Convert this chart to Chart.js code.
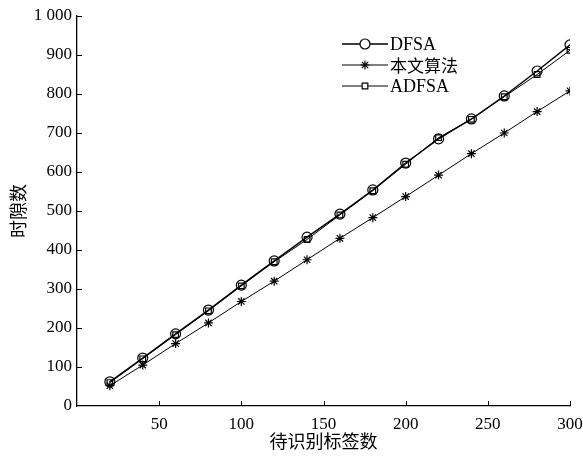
<!DOCTYPE html>
<html>
<head>
<meta charset="utf-8">
<script src="https://cdn.jsdelivr.net/npm/chart.js@4/dist/chart.umd.min.js"></script>
<style>
  html, body { margin: 0; padding: 0; background: #fff; }
  #wrap { width: 583px; height: 456px; }
</style>
</head>
<body>
<div id="wrap"><canvas id="slotChart" width="583" height="456"></canvas></div>
<script>
const tagCounts = [20, 40, 60, 80, 100, 120, 140, 160, 180, 200, 220, 240, 260, 280, 300]
const dfsaSlots = [62, 123, 185, 246, 310, 372, 433, 492, 554, 623, 685, 736, 795, 859, 926]
const oursSlots = [52, 105, 160, 213, 268, 320, 375, 430, 483, 537, 592, 647, 700, 755, 808]
const adfsaSlots = [60, 121, 183, 244, 308, 370, 427, 490, 552, 620, 688, 735, 793, 850, 912]

const seriesNames = ['DFSA', '本文算法', 'ADFSA']
const serifFont = '"Liberation Serif", "DejaVu Serif", serif'
const cjkFont = '"Noto Sans CJK SC", "Noto Sans", sans-serif'

const toPoints = (ys) => tagCounts.map((x, i) => ({x: x, y: ys[i]}))

// ticks point into the plot, so they are drawn here instead of by the grid
const inwardTicks = {
    id: 'inwardTicks',
    afterDraw(chart) {
        const ctx = chart.ctx
        const xs = chart.scales.x
        const ys = chart.scales.y
        const len = 5
        ctx.save()
        ctx.strokeStyle = '#000'
        ctx.lineWidth = 1
        ctx.beginPath()
        xs.ticks.forEach((t) => {
            if (t.value === 0) return
            const px = Math.round(xs.getPixelForValue(t.value)) + 0.5
            ctx.moveTo(px, ys.bottom)
            ctx.lineTo(px, ys.bottom - len)
        })
        ys.ticks.forEach((t) => {
            if (t.value === 0) return
            const py = Math.round(ys.getPixelForValue(t.value)) + 0.5
            ctx.moveTo(xs.left, py)
            ctx.lineTo(xs.left + len, py)
        })
        ctx.stroke()
        ctx.restore()
    }
}

// legend box in the upper right of the plot: line, marker, name
const lineLegend = {
    id: 'lineLegend',
    afterDraw(chart) {
        const ctx = chart.ctx
        const x0 = 342, x1 = 388, rowY = [44, 65, 86]
        ctx.save()
        ctx.textBaseline = 'middle'
        ctx.textAlign = 'left'
        chart.data.datasets.forEach((ds, i) => {
            const y = rowY[i]
            ctx.strokeStyle = '#000'
            ctx.lineWidth = ds.borderWidth
            ctx.beginPath()
            ctx.moveTo(x0, y)
            ctx.lineTo(x1, y)
            ctx.stroke()
            // hollow marker: white inside, black outline
            ctx.fillStyle = '#fff'
            ctx.lineWidth = ds.pointBorderWidth
            Chart.helpers.drawPoint(ctx, {
                pointStyle: ds.pointStyle,
                radius: ds.pointRadius,
                borderWidth: ds.pointBorderWidth
            }, (x0 + x1) / 2, y)
            ctx.fillStyle = '#000'
            ctx.font = i === 1 ? '17px ' + cjkFont : '18px ' + serifFont
            ctx.fillText(ds.label, x1 + 2, y + 1)
        })
        ctx.restore()
    }
}

const makeSet = (label, ys, style, radius, width) => ({
    label: label,
    data: toPoints(ys),
    borderColor: '#000',
    backgroundColor: 'rgba(0,0,0,0)',
    borderWidth: width,
    pointStyle: style,
    pointRadius: radius,
    pointBorderWidth: 1.2,
    pointBorderColor: '#000',
    pointBackgroundColor: 'rgba(0,0,0,0)',
    tension: 0
})

new Chart(document.getElementById('slotChart'), {
    type: 'line',
    data: {
        datasets: [
            makeSet(seriesNames[0], dfsaSlots, 'circle', 5, 1.4),
            makeSet(seriesNames[1], oursSlots, 'star', 4.5, 1),
            makeSet(seriesNames[2], adfsaSlots, 'rect', 4, 1)
        ]
    },
    plugins: [inwardTicks, lineLegend],
    options: {
        responsive: false,
        animation: false,
        layout: {padding: {top: 16, right: 13, left: 0, bottom: 0}},
        plugins: {
            legend: {display: false},
            tooltip: {enabled: false}
        },
        scales: {
            x: {
                type: 'linear',
                min: 0,
                max: 300,
                afterFit: (s) => {
                    s.height = 50
                    s.paddingLeft = 0
                    s.paddingRight = 0
                },
                grid: {display: false, drawTicks: false},
                border: {display: true, color: '#000', width: 1.3},
                ticks: {
                    stepSize: 50,
                    padding: 8,
                    color: '#000',
                    font: {family: serifFont, size: 17},
                    maxRotation: 0,
                    callback: (v) => v === 0 ? '' : v
                },
                title: {
                    display: true,
                    text: '待识别标签数',
                    color: '#000',
                    font: {family: cjkFont, size: 18},
                    padding: {top: 0, bottom: 4}
                }
            },
            y: {
                min: 0,
                max: 1000,
                afterFit: (s) => { s.width = 77 },
                grid: {display: false, drawTicks: false},
                border: {display: true, color: '#000', width: 1.3},
                ticks: {
                    stepSize: 100,
                    padding: 5,
                    color: '#000',
                    font: {family: serifFont, size: 17},
                    callback: (v) => v === 1000 ? '1 000' : v
                },
                title: {
                    display: true,
                    text: '时隙数',
                    color: '#000',
                    font: {family: cjkFont, size: 18},
                    padding: {top: 7, bottom: 0}
                }
            }
        }
    }
})
</script>
</body>
</html>
